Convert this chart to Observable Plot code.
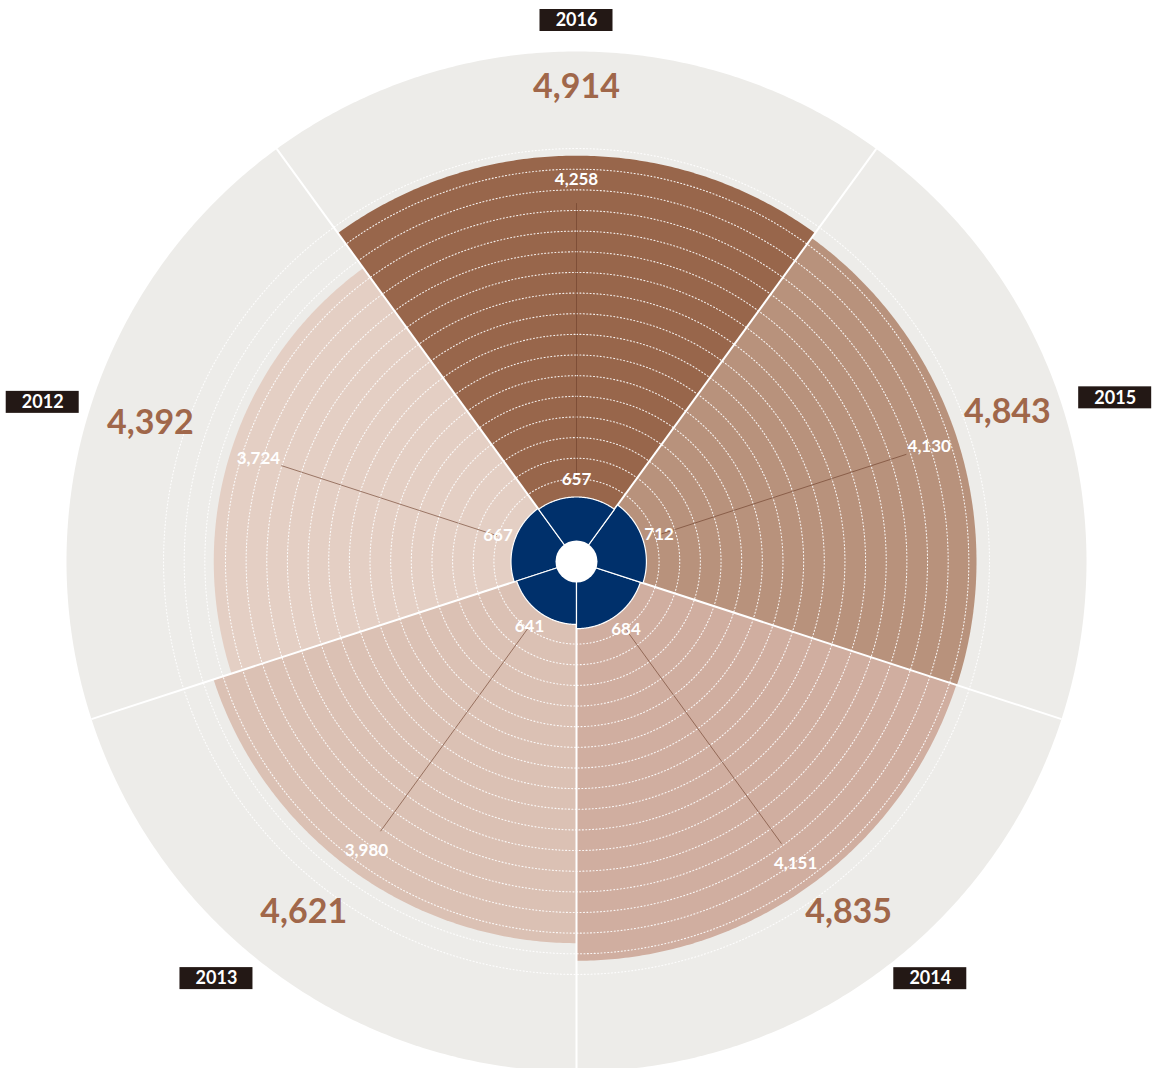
<!DOCTYPE html>
<html><head><meta charset="utf-8">
<script src="https://cdn.jsdelivr.net/npm/d3@7"></script>
<script src="https://cdn.jsdelivr.net/npm/@observablehq/plot@0.6"></script>
<style>body{margin:0;background:#fff;} svg{display:block}</style>
</head><body><div id="chart"></div>
<script>
// ---- data ----
const years = ["2012", "2013", "2014", "2015", "2016"];
const totals = [4392, 4621, 4835, 4843, 4914];      // outer brown sectors (big labels)
const subtotals = [3724, 3980, 4151, 4130, 4258];   // white labels on sectors
const innerValues = [667, 641, 684, 712, 657];      // navy inner sectors
const sectorColors = ["#e4cfc4", "#dbc1b4", "#d0aea0", "#b8927c", "#98664b"];
const gridValues = d3.range(1000, 5001, 250);

// ---- layout ----
const W = 1152, H = 1068, CX = 576, CY = 561;
const OUTER = 6175, OUTER_PX = 510;
const k = OUTER_PX / OUTER;               // px per value unit
const u = px => px / k;                   // px -> plot units
const SPAN = 72;
const centerAngle = i => (4 - i) * SPAN;  // clockwise from top
const rad = d => d * Math.PI / 180;
const pol = (r, deg) => ({x: r * Math.sin(rad(deg)), y: r * Math.cos(rad(deg))});
const arc = (r, a0, a1, step = 0.5) => d3.range(a0, a1 + 1e-9, step).map(a => pol(r, a));

const innerPx = v => v * 0.0982;          // navy radial scale (px)
const labelPx = v => v * 0.0898;          // white value label radial position (px)
// label placement tweaks (px radius, degree offset), per sector 2012..2016
const bigLabelR = [448, 444, 444, 456, 474];
const bigLabelDA = [0, 1.9, -1.8, -1.1, 0];
const yearLabelR = [557, 551, 547, 563, 541];
const yearLabelDA = [-1.4, 4.8, -4.3, 1.1, 0];

const rows = years.map((year, i) => ({
  year, i, total: totals[i], sub: subtotals[i], inner: innerValues[i],
  color: sectorColors[i], c: centerAngle(i)
}));

const marks = [];

// gray background disc
marks.push(Plot.line(arc(OUTER, 0, 360, 0.5), {x: "x", y: "y", fill: "#edece9", stroke: null, curve: "linear-closed"}));

// brown sectors
for (const d of rows) {
  const pts = [{x: 0, y: 0}, ...arc(d.total, d.c - SPAN / 2, d.c + SPAN / 2)];
  marks.push(Plot.line(pts, {x: "x", y: "y", fill: d.color, stroke: null, curve: "linear-closed"}));
}

// dotted grid circles
for (const g of gridValues) {
  marks.push(Plot.line(arc(g, 0, 360, 0.5), {x: "x", y: "y", stroke: "white", strokeOpacity: 0.9, strokeWidth: 1.1, strokeDasharray: "1,2.4", curve: "linear-closed"}));
}

// leader lines
marks.push(Plot.link(rows, {
  x1: d => pol(u(innerPx(d.inner) + 18), d.c).x,
  y1: d => pol(u(innerPx(d.inner) + 18), d.c).y,
  x2: d => pol(u(labelPx(d.sub) - 24), d.c).x,
  y2: d => pol(u(labelPx(d.sub) - 24), d.c).y,
  stroke: "#6e3f2b", strokeOpacity: 0.7, strokeWidth: 0.9
}));

// white separators
const boundaries = rows.map(d => d.c + SPAN / 2);
marks.push(Plot.link(boundaries, {
  x1: 0, y1: 0,
  x2: a => pol(OUTER, a).x, y2: a => pol(OUTER, a).y,
  stroke: "white", strokeWidth: 2
}));

// navy inner sectors
for (const d of rows) {
  const pts = [{x: 0, y: 0}, ...arc(u(innerPx(d.inner)), d.c - SPAN / 2, d.c + SPAN / 2)];
  marks.push(Plot.line(pts, {x: "x", y: "y", fill: "#00306b", stroke: "white", strokeWidth: 1.2, curve: "linear-closed"}));
}

// white center
marks.push(Plot.dot([{x: 0, y: 0}], {x: "x", y: "y", r: 21, fill: "white", stroke: null}));

const font = "Lato, 'Open Sans', sans-serif";

// inner value labels
marks.push(Plot.text(rows, {
  x: d => pol(u(innerPx(d.inner) + 17), d.c).x,
  y: d => pol(u(innerPx(d.inner) + 17), d.c).y,
  text: d => d3.format(",")(d.inner),
  fill: "white", fontSize: 17, fontWeight: 700, fontFamily: font
}));

// sub value labels
marks.push(Plot.text(rows, {
  x: d => pol(u(labelPx(d.sub)), d.c).x,
  y: d => pol(u(labelPx(d.sub)), d.c).y,
  text: d => d3.format(",")(d.sub),
  fill: "white", fontSize: 17, fontWeight: 700, fontFamily: font
}));

// big totals
const bp = d => pol(u(bigLabelR[d.i]), d.c + bigLabelDA[d.i]);
marks.push(Plot.text(rows, {
  x: d => bp(d).x,
  y: d => bp(d).y,
  text: d => d3.format(",")(d.total),
  fill: "#a0674a", fontSize: 34, fontWeight: 700, fontFamily: font
}));

// year boxes
const BW = 36.5, BH = 11;
const yp = d => pol(u(yearLabelR[d.i]), d.c + yearLabelDA[d.i]);
marks.push(Plot.rect(rows, {
  x1: d => yp(d).x - u(BW), x2: d => yp(d).x + u(BW),
  y1: d => yp(d).y - u(BH), y2: d => yp(d).y + u(BH),
  fill: "#231815", inset: 0
}));
marks.push(Plot.text(rows, {
  x: d => yp(d).x, y: d => yp(d).y,
  text: "year", fill: "white", fontSize: 18, fontWeight: 700, fontFamily: font
}));

const chart = Plot.plot({
  width: W, height: H, margin: 0,
  x: {domain: [u(-CX), u(W - CX)], axis: null},
  y: {domain: [u(-(H - CY)), u(CY)], axis: null},
  style: {background: "white"},
  marks
});
document.getElementById("chart").append(chart);
</script>
</body></html>
